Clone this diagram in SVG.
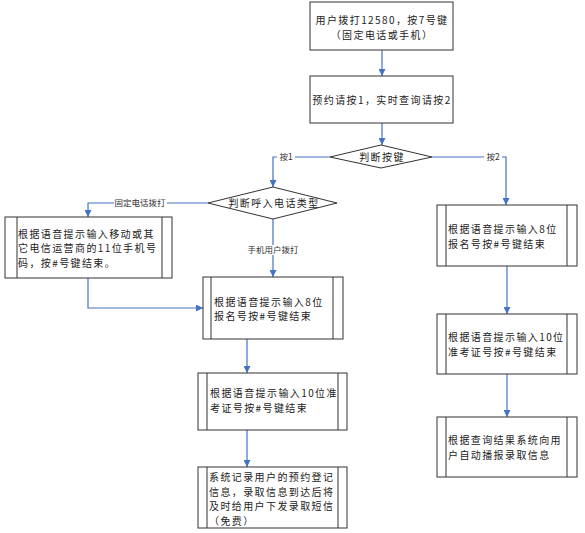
<svg xmlns="http://www.w3.org/2000/svg" width="585" height="533" viewBox="0 0 585 533">
<defs>
<marker id="arr" viewBox="0 0 8 8" refX="8" refY="4" markerWidth="7" markerHeight="7" markerUnits="userSpaceOnUse" orient="auto">
<path d="M0,0 L8,4 L0,8 z" fill="#4472C4"/>
</marker>
</defs>
<style>
.box{fill:#fff;stroke:#333;stroke-width:1}
.in{stroke:#333;stroke-width:1}
.t{font-family:"Noto Sans CJK SC","Noto Sans",sans-serif;font-size:10px;letter-spacing:1.4px;fill:#222}
.c{text-anchor:middle}
.lbl{font-family:"Noto Sans CJK SC","Noto Sans",sans-serif;font-size:8.5px;fill:#333;text-anchor:middle}
.ln{fill:none;stroke:#4472C4;stroke-width:1.2;marker-end:url(#arr)}
.bg{fill:#fff}
</style>
<rect width="585" height="533" fill="#fff"/>
<g id="connectors">
<path class="ln" d="M382,50 V76"/>
<path class="ln" d="M382,123 V145"/>
<path class="ln" d="M330,157 H273 V187"/>
<path class="ln" d="M432,157 H506 V205"/>
<path class="ln" d="M208,203 H88 V217"/>
<path class="ln" d="M273,219 V277"/>
<path class="ln" d="M88,278 V308 H203"/>
<path class="ln" d="M247,339 V373"/>
<path class="ln" d="M247,430 V467"/>
<path class="ln" d="M507,266 V314"/>
<path class="ln" d="M507,374 V417"/>
<rect class="bg" x="277" y="152" width="18" height="10"/>
<text class="lbl" x="286" y="160">按1</text>
<rect class="bg" x="484" y="152" width="18" height="10"/>
<text class="lbl" x="493" y="160">按2</text>
<rect class="bg" x="114" y="198" width="53" height="10"/>
<text class="lbl" x="140" y="206">固定电话拨打</text>
<rect class="bg" x="246" y="245" width="54" height="10"/>
<text class="lbl" x="273" y="253">手机用户拨打</text>
</g>
<g id="start">
<rect class="box" x="310" y="2" width="143" height="48"/>
<text class="t c"><tspan x="382" y="24">用户拨打12580，按7号键</tspan><tspan x="382" y="38.5">（固定电话或手机）</tspan></text>
</g>
<g id="menu">
<rect class="box" x="310" y="76" width="143" height="47"/>
<text class="t c" x="382" y="104">预约请按1，实时查询请按2</text>
</g>
<g id="judgeKey">
<polygon class="box" points="381,145 432,157 381,168 330,157"/>
<text class="t c" x="382" y="161">判断按键</text>
</g>
<g id="judgeType">
<polygon class="box" points="273,187 337,203 273,219 208,203"/>
<text class="t c" x="274" y="207">判断呼入电话类型</text>
</g>
<g id="inputPhone">
<rect class="box" x="5" y="217" width="167" height="61"/>
<line class="in" x1="17" y1="217" x2="17" y2="278"/>
<line class="in" x1="162" y1="217" x2="162" y2="278"/>
<text class="t"><tspan x="18" y="237.5">根据语音提示输入移动或其</tspan><tspan x="18" y="252">它电信运营商的11位手机号</tspan><tspan x="18" y="266.5">码，按#号键结束。</tspan></text>
</g>
<g id="inputReg1">
<rect class="box" x="203" y="277" width="140" height="62"/>
<line class="in" x1="211" y1="277" x2="211" y2="339"/>
<line class="in" x1="333" y1="277" x2="333" y2="339"/>
<text class="t"><tspan x="214" y="305.5">根据语音提示输入8位</tspan><tspan x="214" y="320">报名号按#号键结束</tspan></text>
</g>
<g id="inputExam1">
<rect class="box" x="198" y="373" width="149" height="57"/>
<line class="in" x1="207" y1="373" x2="207" y2="430"/>
<line class="in" x1="338" y1="373" x2="338" y2="430"/>
<text class="t"><tspan x="210" y="397">根据语音提示输入10位准</tspan><tspan x="210" y="411.5">考证号按#号键结束</tspan></text>
</g>
<g id="record">
<rect class="box" x="198" y="467" width="149" height="61"/>
<line class="in" x1="207" y1="467" x2="207" y2="528"/>
<line class="in" x1="338" y1="467" x2="338" y2="528"/>
<text class="t"><tspan x="209" y="481">系统记录用户的预约登记</tspan><tspan x="209" y="495.5">信息，录取信息到达后将</tspan><tspan x="209" y="510">及时给用户下发录取短信</tspan><tspan x="209" y="524.5">（免费）</tspan></text>
</g>
<g id="inputReg2">
<rect class="box" x="437" y="205" width="140" height="61"/>
<line class="in" x1="446" y1="205" x2="446" y2="266"/>
<line class="in" x1="567" y1="205" x2="567" y2="266"/>
<text class="t"><tspan x="448" y="233">根据语音提示输入8位</tspan><tspan x="448" y="247.5">报名号按#号键结束</tspan></text>
</g>
<g id="inputExam2">
<rect class="box" x="437" y="314" width="140" height="60"/>
<line class="in" x1="446" y1="314" x2="446" y2="374"/>
<line class="in" x1="567" y1="314" x2="567" y2="374"/>
<text class="t"><tspan x="448" y="341">根据语音提示输入10位</tspan><tspan x="448" y="355.5">准考证号按#号键结束</tspan></text>
</g>
<g id="query">
<rect class="box" x="437" y="417" width="140" height="60"/>
<line class="in" x1="446" y1="417" x2="446" y2="477"/>
<line class="in" x1="567" y1="417" x2="567" y2="477"/>
<text class="t"><tspan x="448" y="444">根据查询结果系统向用</tspan><tspan x="448" y="458.5">户自动播报录取信息</tspan></text>
</g>
</svg>
